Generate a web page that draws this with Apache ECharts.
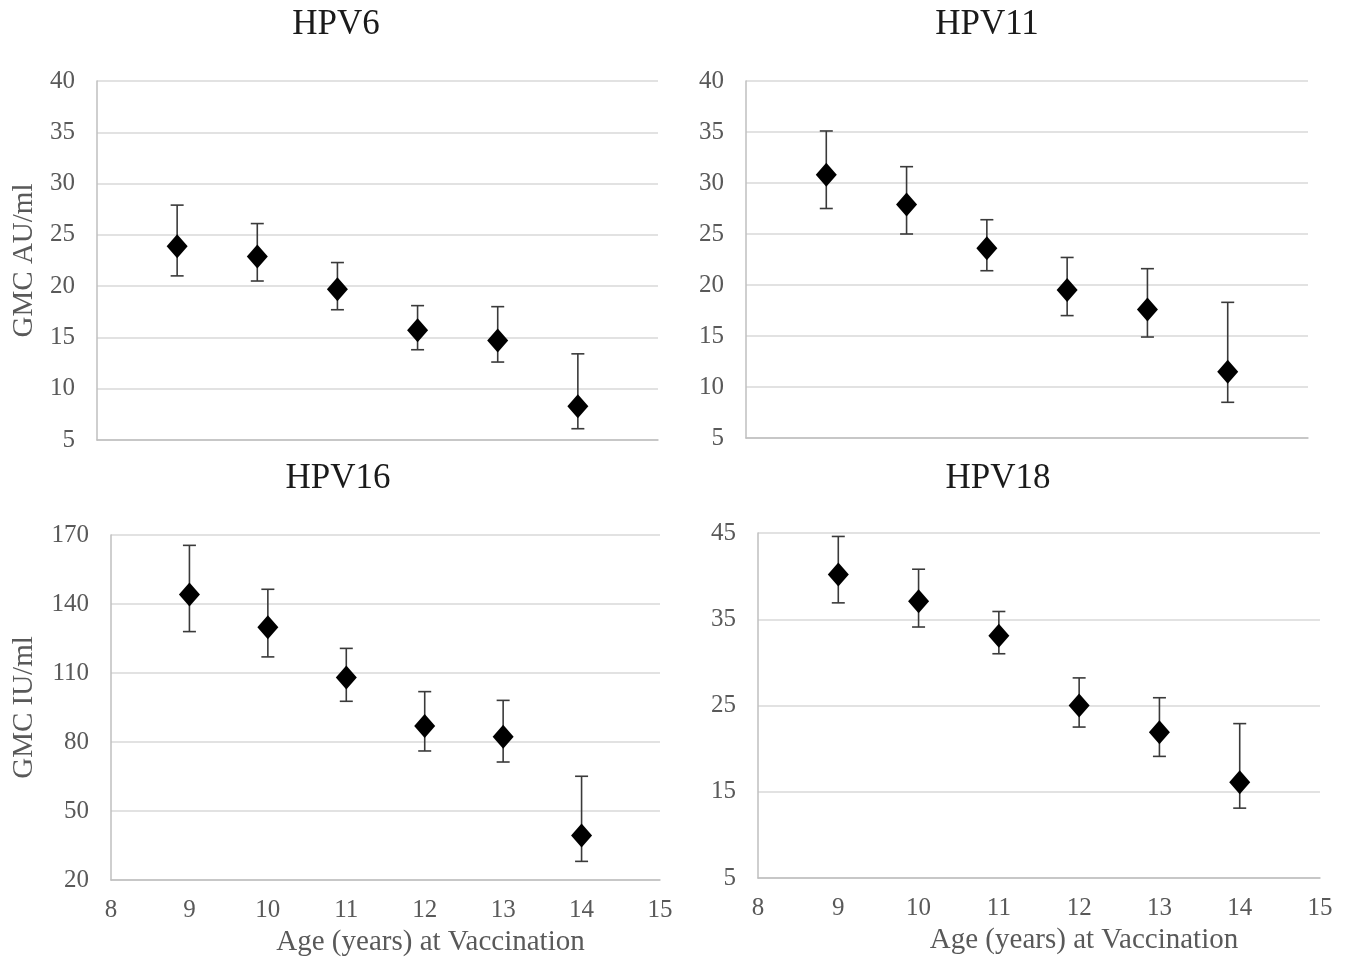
<!DOCTYPE html>
<html>
<head>
<meta charset="utf-8">
<script src="https://cdn.jsdelivr.net/npm/echarts@6/dist/echarts.min.js"></script>
<style>
html,body{margin:0;padding:0;background:#fff;}
#chart{width:1353px;height:959px;}
</style>
</head>
<body>
<div id="chart"></div>
<script>
const ages = [9, 10, 11, 12, 13, 14];
const xTicks = [8, 9, 10, 11, 12, 13, 14, 15];

const panelTitles = ['HPV6', 'HPV11', 'HPV16', 'HPV18'];

const hpv6Gmc  = [23.9, 22.9, 19.7, 15.7, 14.7, 8.3];
const hpv6Low  = [21.0, 20.5, 17.7, 13.8, 12.6, 6.1];
const hpv6High = [27.9, 26.1, 22.3, 18.1, 18.0, 13.4];

const hpv11Gmc  = [30.8, 27.9, 23.6, 19.5, 17.6, 11.5];
const hpv11Low  = [27.5, 25.0, 21.4, 17.0, 14.9, 8.5];
const hpv11High = [35.1, 31.6, 26.4, 22.7, 21.6, 18.3];

const hpv16Gmc  = [144.1, 129.9, 108.0, 87.0, 82.3, 39.3];
const hpv16Low  = [128.0, 117.0, 97.7, 76.1, 71.3, 28.1];
const hpv16High = [165.5, 146.4, 120.7, 101.9, 98.1, 65.1];

const hpv18Gmc  = [40.2, 37.1, 33.1, 25.0, 21.9, 16.1];
const hpv18Low  = [36.9, 34.1, 31.0, 22.5, 19.1, 13.1];
const hpv18High = [44.6, 40.8, 35.9, 28.2, 25.9, 22.9];

const yTicks6  = [5, 10, 15, 20, 25, 30, 35, 40];
const yTicks11 = [5, 10, 15, 20, 25, 30, 35, 40];
const yTicks16 = [20, 50, 80, 110, 140, 170];
const yTicks18 = [5, 15, 25, 35, 45];

const yNames = ['GMC AU/ml', '', 'GMC IU/ml', ''];
const xName = 'Age (years) at Vaccination';

const FONT = 'Liberation Serif';
const GRAY = '#595959';

const panels = [
  {gmc: hpv6Gmc, low: hpv6Low, high: hpv6High, ticks: yTicks6},
  {gmc: hpv11Gmc, low: hpv11Low, high: hpv11High, ticks: yTicks11},
  {gmc: hpv16Gmc, low: hpv16Low, high: hpv16High, ticks: yTicks16},
  {gmc: hpv18Gmc, low: hpv18Low, high: hpv18High, ticks: yTicks18}
];

const grids = [
  {left: 97, top: 81, width: 561, height: 359},
  {left: 746, top: 81, width: 562, height: 357},
  {left: 111, top: 535, width: 549, height: 345},
  {left: 758, top: 533, width: 562, height: 345}
];

const titlePos = [[336, 25], [987, 25], [338, 479], [998, 479]];

const chart = echarts.init(document.getElementById('chart'), null, {renderer: 'canvas'});

const xAxes = [], yAxes = [], series = [];
panels.forEach((p, i) => {
  const bottom = i >= 2;
  xAxes.push({
    type: 'value', gridIndex: i, min: xTicks[0], max: xTicks[xTicks.length - 1], interval: 1,
    axisLine: {show: true, lineStyle: {color: '#bfbfbf', width: 1.5}},
    axisTick: {show: false},
    splitLine: {show: false},
    axisLabel: {show: bottom, fontFamily: FONT, fontSize: 25, color: GRAY, margin: 18},
    name: bottom ? xName : '',
    nameLocation: 'middle',
    nameGap: 48,
    nameTextStyle: {fontFamily: FONT, fontSize: 29, color: GRAY, padding: [0, 0, 0, 90]}
  });
  const t = p.ticks;
  yAxes.push({
    type: 'value', gridIndex: i, min: t[0], max: t[t.length - 1], interval: t[1] - t[0],
    axisLine: {show: true, lineStyle: {color: '#bfbfbf', width: 1.5}},
    axisTick: {show: false},
    splitLine: {show: true, lineStyle: {color: '#d9d9d9', width: 1.5}},
    axisLabel: {fontFamily: FONT, fontSize: 25, color: GRAY, margin: 22},
    name: yNames[i],
    nameLocation: 'middle',
    nameRotate: 90,
    nameGap: i === 0 ? 58 : 72,
    nameTextStyle: {fontFamily: FONT, fontSize: 29, color: GRAY}
  });
  series.push({
    type: 'custom', xAxisIndex: i, yAxisIndex: i,
    data: ages.map((a, k) => [a, p.low[k], p.high[k]]),
    encode: {x: 0, y: [1, 2]},
    z: 2,
    renderItem: function (params, api) {
      const x = api.value(0);
      const lo = api.coord([x, api.value(1)]);
      const hi = api.coord([x, api.value(2)]);
      const hw = 6.5;
      const st = {stroke: '#3a3a3a', lineWidth: 1.6};
      return {
        type: 'group',
        children: [
          {type: 'line', shape: {x1: hi[0], y1: hi[1], x2: lo[0], y2: lo[1]}, style: st},
          {type: 'line', shape: {x1: hi[0] - hw, y1: hi[1], x2: hi[0] + hw, y2: hi[1]}, style: st},
          {type: 'line', shape: {x1: lo[0] - hw, y1: lo[1], x2: lo[0] + hw, y2: lo[1]}, style: st}
        ]
      };
    }
  });
  series.push({
    type: 'scatter', xAxisIndex: i, yAxisIndex: i,
    data: ages.map((a, k) => [a, p.gmc[k]]),
    symbol: 'diamond', symbolSize: [21, 24],
    itemStyle: {color: '#000', opacity: 1},
    z: 3
  });
});

const graphics = panelTitles.map((txt, i) => ({
  type: 'text', x: titlePos[i][0], y: titlePos[i][1],
  style: {text: txt, fontFamily: FONT, fontSize: 35, fill: '#1a1a1a', align: 'center', verticalAlign: 'middle'}
}));

chart.setOption({
  backgroundColor: '#fff',
  animation: false,
  grid: grids,
  xAxis: xAxes,
  yAxis: yAxes,
  series: series,
  graphic: graphics
});
</script>
</body>
</html>
